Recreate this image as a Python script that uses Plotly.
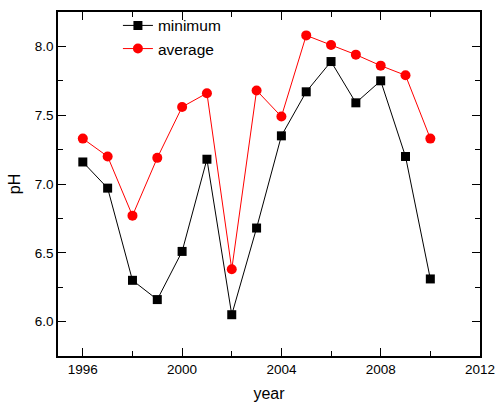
import plotly.graph_objects as go

years = [1996, 1997, 1998, 1999, 2000, 2001, 2002, 2003, 2004, 2005, 2006, 2007, 2008, 2009, 2010]
minimum = [7.16, 6.97, 6.30, 6.16, 6.51, 7.18, 6.05, 6.68, 7.35, 7.67, 7.89, 7.59, 7.75, 7.20, 6.31]
average = [7.33, 7.20, 6.77, 7.19, 7.56, 7.66, 6.38, 7.68, 7.49, 8.08, 8.01, 7.94, 7.86, 7.79, 7.33]

font = "Liberation Sans, Arial, sans-serif"

fig = go.Figure()
fig.add_trace(go.Scatter(x=years, y=minimum, name="minimum", mode="lines+markers",
                         line=dict(color="black", width=1),
                         marker=dict(symbol="square", size=9, color="black")))
fig.add_trace(go.Scatter(x=years, y=average, name="average", mode="lines+markers",
                         line=dict(color="red", width=1),
                         marker=dict(symbol="circle", size=10, color="red")))

axis_common = dict(showgrid=False, zeroline=False, showline=True, linecolor="black", linewidth=1.5,
                   mirror="ticks", ticks="inside", ticklen=8, tickwidth=1, tickcolor="black",
                   automargin=False, ticklabeloverflow="allow",
                   tickfont=dict(family=font, size=13.5, color="black"))

fig.update_xaxes(range=[1995, 2012.001], tickvals=[1996, 2000, 2004, 2008, 2012],
                 minor=dict(ticks="inside", ticklen=5, tickwidth=1, tickcolor="black", dtick=2, tick0=1996),
                 title=dict(text="year", font=dict(family=font, size=16, color="black"), standoff=19),
                 **axis_common)
fig.update_yaxes(range=[5.75, 8.25], tickvals=[6.0, 6.5, 7.0, 7.5, 8.0], tickformat=".1f",
                 minor=dict(ticks="inside", ticklen=5, tickwidth=1, tickcolor="black", dtick=0.25, tick0=6.0),
                 title=dict(text="pH", font=dict(family=font, size=16, color="black"), standoff=10),
                 **axis_common)

fig.update_layout(width=495, height=402, margin=dict(l=58, r=15, t=12, b=46, autoexpand=False),
                  plot_bgcolor="white", paper_bgcolor="white",
                  font=dict(family=font, color="black"),
                  legend=dict(x=0.142, y=0.978, yref="container", xanchor="left", yanchor="top",
                              bgcolor="rgba(0,0,0,0)",
                              font=dict(family=font, size=15.5, color="black"), tracegroupgap=0))

fig.write_html("out.html")
